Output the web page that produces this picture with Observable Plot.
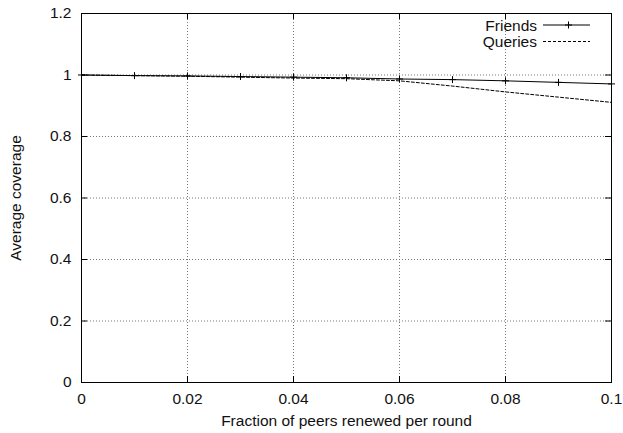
<!DOCTYPE html>
<html>
<head>
<meta charset="utf-8">
<script src="https://cdn.jsdelivr.net/npm/d3@7"></script>
<script src="https://cdn.jsdelivr.net/npm/@observablehq/plot@0.6"></script>
<style>
  html, body { margin: 0; padding: 0; background: #fff; }
  #chart svg { display: block; }
</style>
</head>
<body>
<div id="chart"></div>
<script>
const fractions = [0, 0.01, 0.02, 0.03, 0.04, 0.05, 0.06, 0.07, 0.08, 0.09, 0.1];
const friends   = [1.0, 0.998, 0.997, 0.995, 0.993, 0.991, 0.987, 0.985, 0.981, 0.976, 0.971];
const queries   = [1.0, 0.998, 0.996, 0.993, 0.990, 0.988, 0.981, 0.964, 0.945, 0.928, 0.911];
const xTicks = [0, 0.02, 0.04, 0.06, 0.08, 0.1];
const yTicks = [0, 0.2, 0.4, 0.6, 0.8, 1, 1.2];
const seriesNames = ["Friends", "Queries"];

const friendsData = fractions.map((x, i) => ({x, y: friends[i]}));
const queriesData = fractions.map((x, i) => ({x, y: queries[i]}));

const W = 623, H = 433;
const mL = 81, mR = 12, mT = 13, mB = 51;
const innerH = H - mT - mB;
const innerW = W - mL - mR;
const tick = 6;
const FONT = "'Liberation Sans', Arial, sans-serif";
const FS = 15.5;

const plusSymbol = {
  draw(context, size) {
    const r = Math.sqrt(size / Math.PI);
    context.moveTo(-r, 0); context.lineTo(r, 0);
    context.moveTo(0, -r); context.lineTo(0, r);
  }
};

const gridX = xTicks.slice(1, -1);
const gridY = yTicks.slice(1, -1);

const plot = Plot.plot({
  width: W,
  height: H,
  marginLeft: mL,
  marginRight: mR,
  marginTop: mT,
  marginBottom: mB,
  style: {fontFamily: FONT, fontSize: FS + "px", color: "#111", background: "#fff"},
  x: {domain: [0, 0.1]},
  y: {domain: [0, 1.2]},
  marks: [
    Plot.ruleX(gridX, {x: d => d, stroke: "#777", strokeWidth: 1, strokeDasharray: "1,2"}),
    Plot.ruleY(gridY, {y: d => d, stroke: "#777", strokeWidth: 1, strokeDasharray: "1,2"}),
    Plot.ruleX(xTicks, {x: d => d, insetTop: innerH - tick, stroke: "#000"}),
    Plot.ruleX(xTicks, {x: d => d, insetBottom: innerH - tick, stroke: "#000"}),
    Plot.ruleY(yTicks, {y: d => d, insetRight: innerW - tick, stroke: "#000"}),
    Plot.ruleY(yTicks, {y: d => d, insetLeft: innerW - tick, stroke: "#000"}),
    Plot.line(queriesData, {x: "x", y: "y", stroke: "#000", strokeWidth: 1, strokeDasharray: "3,2"}),
    Plot.line(friendsData, {x: "x", y: "y", stroke: "#000", strokeWidth: 1}),
    Plot.dot(friendsData, {x: "x", y: "y", symbol: plusSymbol, r: 3.5, stroke: "#000", fill: "none", strokeWidth: 1}),
    Plot.frame({stroke: "#000", strokeWidth: 1}),
    Plot.axisX(xTicks, {tickSize: 0, tickPadding: 10, tickFormat: d => String(d), label: "Fraction of peers renewed per round", labelAnchor: "center", labelArrow: "none", labelOffset: 43, fontSize: FS}),
    Plot.axisY(yTicks, {tickSize: 0, tickPadding: 10, tickFormat: d => String(d), label: "Average coverage", labelAnchor: "center", labelArrow: "none", labelOffset: 72, fontSize: FS})
  ]
});

const svg = d3.select(plot);
const lg = svg.append("g").attr("font-family", FONT).attr("font-size", FS).attr("fill", "#111");
const styles = [{dash: null, marker: true}, {dash: "3,2", marker: false}];
seriesNames.forEach((name, i) => {
  const y = 25 + i * 16.5;
  lg.append("text").attr("x", 537).attr("y", y).attr("dy", "0.36em").attr("text-anchor", "end").text(name);
  lg.append("line").attr("x1", 543).attr("x2", 590).attr("y1", y).attr("y2", y)
    .attr("stroke", "#000").attr("stroke-dasharray", styles[i].dash);
  if (styles[i].marker) {
    lg.append("path").attr("d", `M${568.5-3.5},${y}h7M${568.5},${y-3.5}v7`).attr("stroke", "#000");
  }
});

document.getElementById("chart").appendChild(plot);
</script>
</body>
</html>
